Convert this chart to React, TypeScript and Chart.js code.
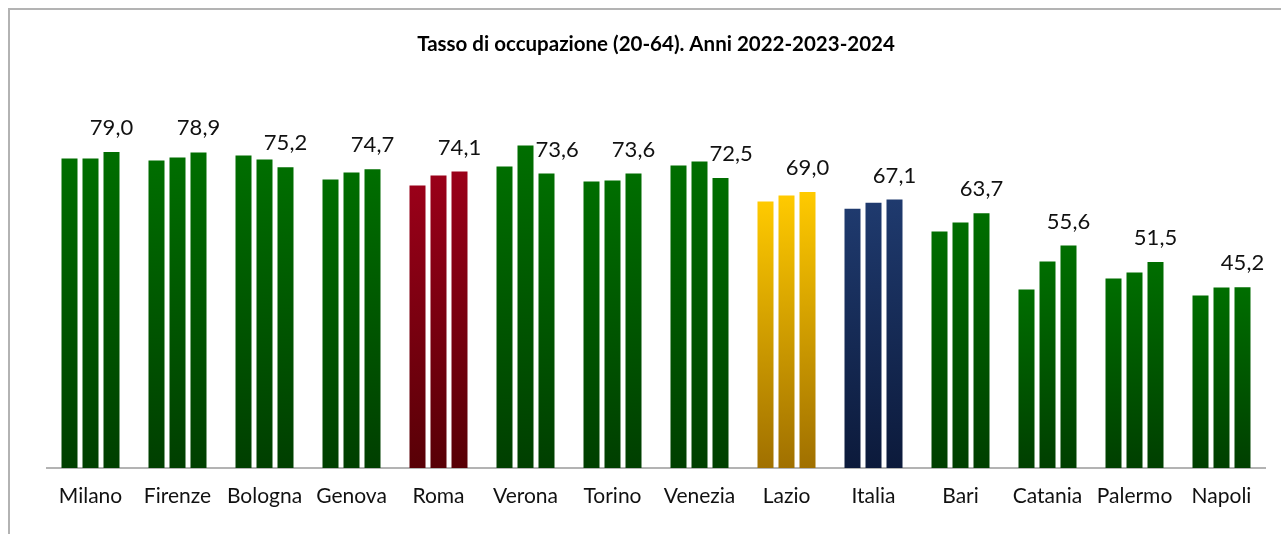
import React, { useEffect, useRef } from "react";
import { Chart, registerables } from "chart.js";

Chart.register(...registerables);

const categories = [
  "Milano", "Firenze", "Bologna", "Genova", "Roma", "Verona", "Torino",
  "Venezia", "Lazio", "Italia", "Bari", "Catania", "Palermo", "Napoli",
];
const values2022 = [77.4, 76.9, 78.1, 72.1, 70.6, 75.4, 71.6, 75.6, 66.6, 64.8, 59.1, 44.6, 47.4, 43.1];
const values2023 = [77.4, 77.6, 77.1, 73.9, 73.1, 80.6, 71.9, 76.6, 68.1, 66.3, 61.4, 51.6, 48.9, 45.1];
const values2024 = [79.0, 78.9, 75.2, 74.7, 74.1, 73.6, 73.6, 72.5, 69.0, 67.1, 63.7, 55.6, 51.5, 45.2];
const seriesNames = ["2022", "2023", "2024"];
const titleText = "Tasso di occupazione (20-64). Anni 2022-2023-2024";

const GREEN = ["#006e00", "#003f00"];
const specialColors: Record<string, string[]> = {
  Roma: ["#9a0019", "#580006"],
  Lazio: ["#ffca00", "#a07000"],
  Italia: ["#1f3a6e", "#0c1a3b"],
};

const FONT = "Lato, 'Open Sans', sans-serif";

function barFill(ctx: any) {
  const chart = ctx.chart;
  const name = categories[ctx.dataIndex] ?? "";
  const pair = specialColors[name] || GREEN;
  const area = chart.chartArea;
  const yScale = chart.scales?.y;
  if (!area || !yScale || ctx.type !== "data") return pair[0];
  const v = ctx.raw as number;
  const yTop = yScale.getPixelForValue(v);
  const yBot = yScale.getPixelForValue(0);
  if (!isFinite(yTop) || !isFinite(yBot) || yTop === yBot) return pair[0];
  const g = chart.ctx.createLinearGradient(0, yTop, 0, yBot);
  g.addColorStop(0, pair[0]);
  g.addColorStop(1, pair[1]);
  return g;
}

const labelPlugin = {
  id: "lastLabels",
  afterDatasetsDraw(chart: any) {
    const c = chart.ctx;
    const meta = chart.getDatasetMeta(2);
    const prev = chart.getDatasetMeta(1);
    c.save();
    c.font = `22px ${FONT}`;
    c.fillStyle = "#111";
    c.textBaseline = "middle";
    meta.data.forEach((bar: any, i: number) => {
      const v = values2024[i];
      const txt = v.toFixed(1).replace(".", ",");
      const w = c.measureText(txt).width;
      const cy = bar.y - 24;
      let cx = bar.x;
      const pb = prev.data[i];
      if (pb && pb.y < cy + 8) {
        const minLeft = pb.x + pb.width / 2 + 2;
        if (cx - w / 2 < minLeft) cx = minLeft + w / 2;
      }
      c.textAlign = "center";
      c.fillText(txt, cx, cy);
    });
    c.restore();
  },
};

export default function App() {
  const ref = useRef<HTMLCanvasElement | null>(null);
  useEffect(() => {
    if (!ref.current) return;
    const chart = new Chart(ref.current, {
      type: "bar",
      data: {
        labels: categories,
        datasets: [values2022, values2023, values2024].map((d, k) => ({
          label: seriesNames[k],
          data: d,
          backgroundColor: barFill,
          borderWidth: 0,
          categoryPercentage: 63 / 87,
          barPercentage: 16 / 21,
        })),
      },
      options: {
        responsive: false,
        devicePixelRatio: 1,
        animation: false,
        layout: { padding: { left: 47, right: 16, top: 0, bottom: 0 } },
        plugins: {
          legend: { display: false },
          tooltip: { enabled: false },
          title: {
            display: true,
            text: titleText,
            color: "#000",
            font: { family: FONT, size: 20.5, weight: "bold" },
            padding: { top: 32, bottom: 11.4 },
          },
        },
        scales: {
          y: { display: false, min: 0, max: 100 },
          x: {
            grid: { display: false, drawTicks: false },
            border: { display: true, color: "#b3b3b3", width: 2 },
            ticks: {
              color: "#111",
              font: { family: FONT, size: 21 },
              padding: 16,
              maxRotation: 0,
              autoSkip: false,
            },
            afterFit: (scale: any) => {
              scale.height = 66;
            },
          },
        },
      },
      plugins: [labelPlugin],
    });
    return () => chart.destroy();
  }, []);

  return (
    <div
      style={{
        position: "fixed",
        left: 0,
        top: 0,
        width: 1281,
        height: 534,
        background: "#fff",
        overflow: "hidden",
      }}
    >
      <div
        style={{
          position: "absolute",
          left: 8,
          top: 8,
          width: 1400,
          height: 700,
          border: "2px solid #b3b3b3",
        }}
      />
      <canvas
        ref={ref}
        width={1281}
        height={534}
        style={{ position: "absolute", left: 0, top: 0, width: 1281, height: 534 }}
      />
    </div>
  );
}
